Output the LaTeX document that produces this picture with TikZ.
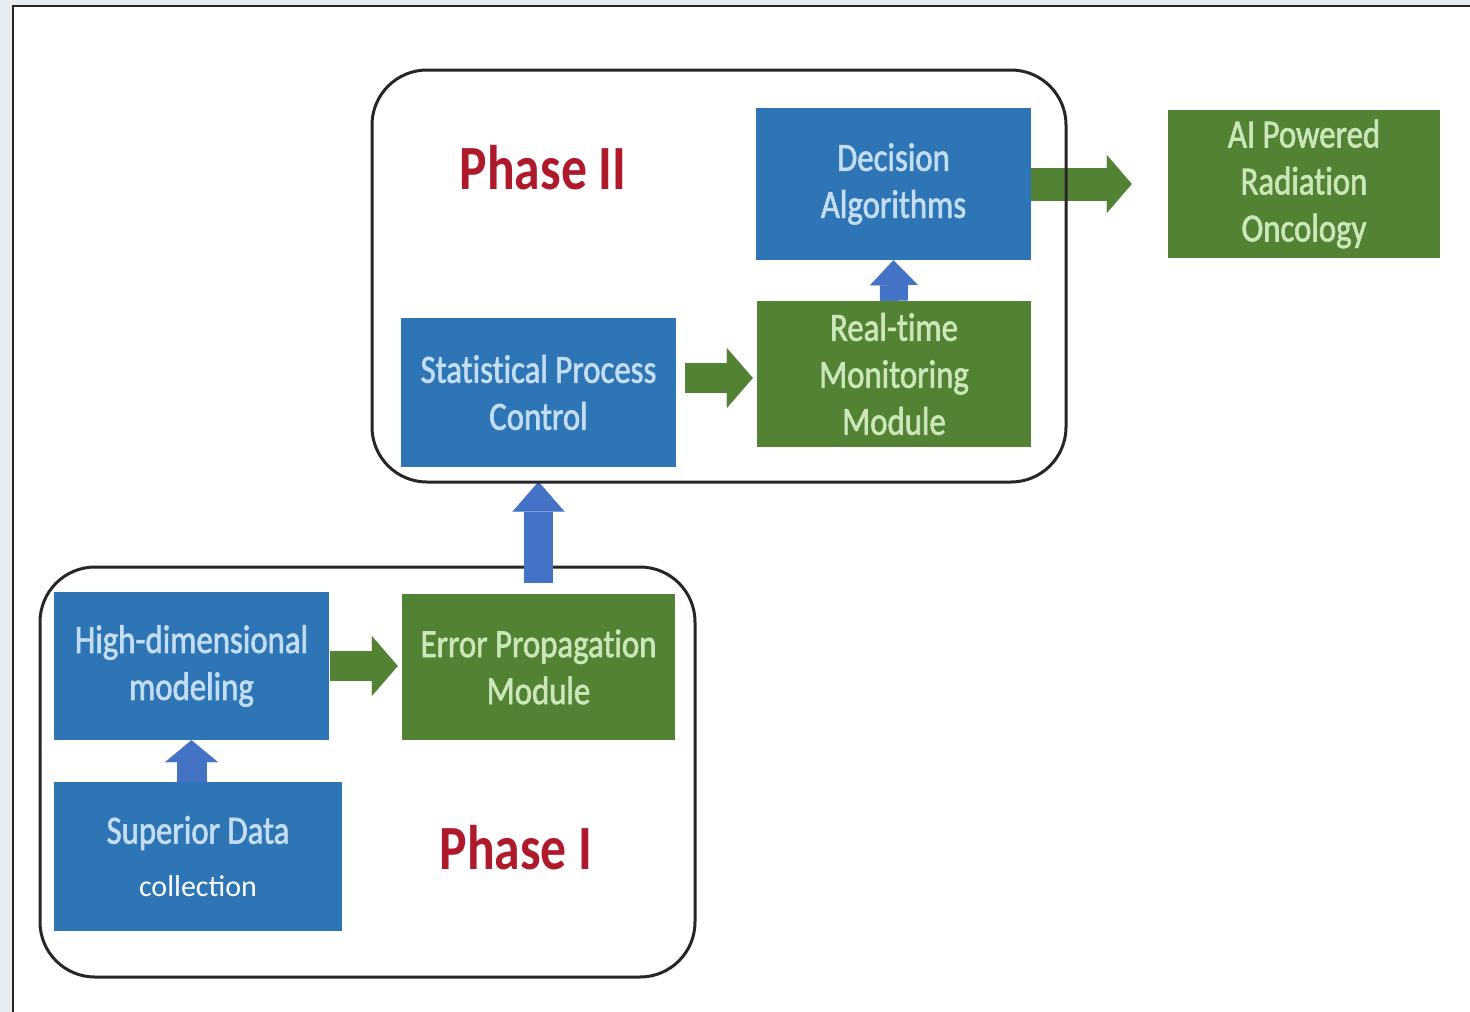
\documentclass[tikz,border=0pt]{standalone}
\usepackage{fontspec}
\setmainfont{Carlito}[FakeStretch=0.82]
\newfontfamily\boxfont{Carlito}[FakeStretch=0.82,FakeBold=1.6,Ligatures=NoCommon]
\newfontfamily\collfont{Carlito}
\usetikzlibrary{arrows.meta,calc}

\definecolor{boxblue}{HTML}{2E75B6}
\definecolor{boxgreen}{HTML}{548235}
\definecolor{arrowblue}{HTML}{4472C4}
\definecolor{txtblue}{HTML}{C4DDF3}
\definecolor{txtgreen}{HTML}{CBE6B8}
\definecolor{phasered}{HTML}{AE1A2C}
\definecolor{pagebg}{HTML}{E8EDF2}

\tikzset{
  box/.style={rectangle, inner sep=0pt, align=center, font=\boxfont\fontsize{40}{47}\selectfont},
  bluebox/.style={box, fill=boxblue, text=txtblue},
  greenbox/.style={box, fill=boxgreen, text=txtgreen},
  phase/.style={draw=black!85, line width=3pt, rounded corners=55pt, inner sep=0pt},
  phasetitle/.style={text=phasered, font=\bfseries\fontsize{63}{68}\selectfont},
  greenarrow/.style={draw=boxgreen, line width=30pt,
    -{Triangle[length=26pt,width=60pt,line width=0.1pt]}},
  bluearrow/.style={draw=arrowblue, line width=29pt,
    -{Triangle[length=30pt,width=52pt,line width=0.1pt]}},
}

\begin{document}
\begin{tikzpicture}[x=1pt,y=-1pt]
  % page and frame
  \fill[pagebg] (0,0) rectangle (1470,1012);
  \useasboundingbox (0,0) rectangle (1470,1012);
  \fill[white] (13,6) rectangle (1470,1012);
  \draw[black!85, line width=2pt] (13,1012) -- (13,6) -- (1470,6);

  % Phase I container
  \node[phase, minimum width=655pt, minimum height=410pt] (ph1) at (367.5,772) {};

  % process blocks
  \node[bluebox, minimum width=275pt, minimum height=152pt] (dec) at (893.5,184) {Decision\\Algorithms};
  \node[greenbox, minimum width=272pt, minimum height=148pt] (ai) at (1304,184) {AI Powered\\Radiation\\Oncology};
  \node[bluebox, minimum width=275pt, minimum height=149pt] (spc) at (538.5,392.5) {Statistical Process\\Control};
  \node[greenbox, minimum width=274pt, minimum height=146pt] (rtm) at (894,374) {Real-time\\Monitoring\\Module};
  \node[bluebox, minimum width=275pt, minimum height=148pt] (hdm) at (191.5,666) {High-dimensional\\modeling};
  \node[greenbox, minimum width=273pt, minimum height=146pt] (epm) at (538.5,667) {Error Propagation\\Module};
  \node[bluebox, minimum width=288pt, minimum height=149pt] (sdc) at (198,856.5)
    {Superior Data\\[6pt]{\collfont\color{white}\fontsize{30}{36}\selectfont collection}};

  % phase titles
  \node[phasetitle] (t2) at (543,168) {Phase II};
  \node[phasetitle] (t1) at (516,848) {Phase I};

  % flow arrows
  \draw[greenarrow, shorten <=1pt, shorten >=4pt] (hdm.east) -- (hdm.east -| epm.west);
  \draw[greenarrow, shorten <=9pt, shorten >=4pt]
    ($(spc.east |- rtm.west)+(0,4)$) -- ($(rtm.west)+(0,4)$);
  \draw[bluearrow, shorten <=11pt, shorten >=14.5pt] (epm.north) -- (spc.south);
  \draw[bluearrow, line width=28pt, -{Triangle[length=25pt,width=48pt,line width=0.1pt]}]
    (rtm.north) -- (dec.south);
  \draw[bluearrow, line width=30pt, -{Triangle[length=22pt,width=53pt,line width=0.1pt]}]
    (sdc.north -| hdm.south) -- (hdm.south);
  \draw[greenarrow, line width=33pt, -{Triangle[length=25pt,width=58pt,line width=0.1pt]},
    shorten >=36pt] (dec.east) -- (ai.west);

  % Phase II container, on top of the outgoing arrow
  \node[phase, minimum width=694pt, minimum height=412pt] (ph2) at (719,276) {};
\end{tikzpicture}
\end{document}
